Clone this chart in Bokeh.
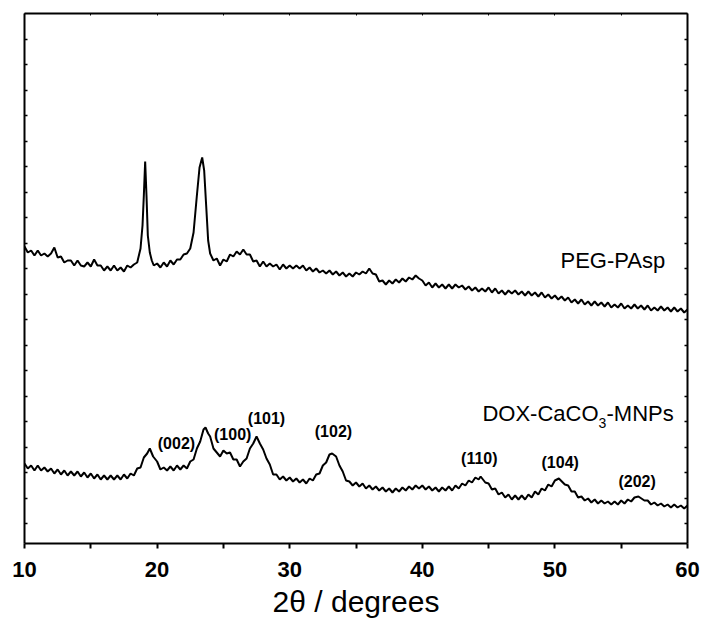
from bokeh.plotting import figure
from bokeh.models import Range1d, LinearAxis, FixedTicker, Label, CustomJSTickFormatter
from bokeh.embed import file_html
from bokeh.resources import INLINE

# ---- data (intensity in arbitrary units) ----
two_theta_peg = [10.0, 10.25, 10.5, 10.75, 11.0, 11.25, 11.5, 11.75, 12.0, 12.25, 12.5, 12.75,
                 13.0, 13.25, 13.5, 13.75, 14.0, 14.25, 14.5, 14.75, 15.0, 15.25, 15.5, 15.75,
                 16.0, 16.25, 16.5, 16.75, 17.0, 17.25, 17.5, 17.75, 18.0, 18.25, 18.5,
                 18.75, 18.9, 19.0, 19.1, 19.2, 19.3, 19.45, 19.6, 19.75,
                 20.0, 20.25, 20.5, 20.75, 21.0, 21.25, 21.5, 21.75, 22.0, 22.25, 22.5,
                 22.75, 23.0, 23.2, 23.4, 23.55, 23.7, 23.85, 24.0,
                 24.25, 24.5, 24.75, 25.0, 25.25, 25.5, 25.75, 26.0, 26.25, 26.5, 26.75,
                 27.0, 27.25, 27.5, 27.75, 28.0, 28.25, 28.5, 28.75, 29.0, 29.25, 29.5, 29.75,
                 30.0, 30.25, 30.5, 30.75, 31.0, 31.25, 31.5, 31.75, 32.0, 32.25, 32.5, 32.75,
                 33.0, 33.25, 33.5, 33.75, 34.0, 34.25, 34.5, 34.75, 35.0, 35.25, 35.5, 35.75,
                 36.0, 36.25, 36.5, 36.75, 37.0, 37.25, 37.5, 37.75, 38.0, 38.25, 38.5, 38.75,
                 39.0, 39.25, 39.5, 39.75, 40.0, 40.25, 40.5, 40.75, 41.0, 41.25, 41.5, 41.75,
                 42.0, 42.25, 42.5, 42.75, 43.0, 43.25, 43.5, 43.75, 44.0, 44.25, 44.5, 44.75,
                 45.0, 45.25, 45.5, 45.75, 46.0, 46.25, 46.5, 46.75, 47.0, 47.25, 47.5, 47.75,
                 48.0, 48.25, 48.5, 48.75, 49.0, 49.25, 49.5, 49.75, 50.0, 50.25, 50.5, 50.75,
                 51.0, 51.25, 51.5, 51.75, 52.0, 52.25, 52.5, 52.75, 53.0, 53.25, 53.5, 53.75,
                 54.0, 54.25, 54.5, 54.75, 55.0, 55.25, 55.5, 55.75, 56.0, 56.25, 56.5, 56.75,
                 57.0, 57.25, 57.5, 57.75, 58.0, 58.25, 58.5, 58.75, 59.0, 59.25, 59.5, 59.75,
                 60.0]
intensity_peg = [297, 291, 293, 288, 293, 288, 290, 287, 290, 296, 286, 287,
                 281, 283, 283, 278, 283, 278, 277, 281, 277, 284, 278, 278,
                 273, 277, 273, 278, 273, 276, 272, 278, 276, 279, 281,
                 295, 318, 348, 382, 348, 308, 291, 283, 278,
                 280, 276, 281, 277, 283, 279, 284, 284, 289, 290, 295,
                 311, 348, 376, 386, 373, 338, 303, 290,
                 283, 285, 278, 284, 282, 289, 287, 292, 289, 294, 289,
                 289, 282, 283, 277, 282, 277, 280, 277, 279, 274, 279, 275,
                 278, 275, 278, 275, 278, 273, 276, 272, 275, 271, 273, 270,
                 273, 269, 272, 268, 271, 267, 270, 267, 271, 269, 272, 270,
                 275, 270, 269, 262, 263, 259, 263, 260, 264, 261, 265, 262,
                 266, 264, 268, 265, 263, 258, 261, 256, 260, 256, 259, 255,
                 259, 255, 259, 256, 258, 254, 257, 253, 256, 252, 255, 252,
                 256, 251, 255, 250, 253, 249, 253, 250, 253, 249, 252, 248,
                 252, 248, 251, 247, 251, 246, 249, 245, 248, 244, 247, 243,
                 246, 241, 244, 240, 244, 239, 242, 238, 242, 238, 241, 237,
                 241, 236, 239, 236, 240, 235, 238, 235, 239, 235, 238, 234,
                 238, 233, 236, 233, 237, 233, 236, 232, 236, 232, 235, 231,
                 234]

two_theta_dox = [10.0, 10.25, 10.5, 10.75, 11.0, 11.25, 11.5, 11.75, 12.0, 12.25, 12.5, 12.75,
                 13.0, 13.25, 13.5, 13.75, 14.0, 14.25, 14.5, 14.75, 15.0, 15.25, 15.5, 15.75,
                 16.0, 16.25, 16.5, 16.75, 17.0, 17.25, 17.5, 17.75, 18.0, 18.25, 18.5, 18.75,
                 19.0, 19.25, 19.45, 19.7, 20.0, 20.25, 20.5, 20.75, 21.0, 21.25, 21.5, 21.75,
                 22.0, 22.25, 22.5, 22.75, 23.0, 23.25, 23.5, 23.65, 23.85, 24.0, 24.25, 24.5,
                 24.75, 25.0, 25.25, 25.5, 25.75, 26.0, 26.25, 26.5, 26.75, 27.0, 27.25, 27.5,
                 27.75, 28.0, 28.25, 28.5, 28.75, 29.0, 29.25, 29.5, 29.75, 30.0, 30.25, 30.5,
                 30.75, 31.0, 31.25, 31.5, 31.75, 32.0, 32.25, 32.5, 32.75, 33.0, 33.2, 33.5,
                 33.75, 34.0, 34.25, 34.5, 34.75, 35.0, 35.25, 35.5, 35.75, 36.0, 36.25, 36.5,
                 36.75, 37.0, 37.25, 37.5, 37.75, 38.0, 38.25, 38.5, 38.75, 39.0, 39.25, 39.5,
                 39.75, 40.0, 40.25, 40.5, 40.75, 41.0, 41.25, 41.5, 41.75, 42.0, 42.25, 42.5,
                 42.75, 43.0, 43.25, 43.5, 43.75, 44.0, 44.25, 44.4, 44.75, 45.0, 45.25, 45.5,
                 45.75, 46.0, 46.25, 46.5, 46.75, 47.0, 47.25, 47.5, 47.75, 48.0, 48.25, 48.5,
                 48.75, 49.0, 49.25, 49.5, 49.75, 50.0, 50.3, 50.75, 51.0, 51.25, 51.5, 51.75,
                 52.0, 52.25, 52.5, 52.75, 53.0, 53.25, 53.5, 53.75, 54.0, 54.25, 54.5, 54.75,
                 55.0, 55.25, 55.5, 55.75, 56.0, 56.3, 56.75, 57.0, 57.25, 57.5, 57.75, 58.0,
                 58.25, 58.5, 58.75, 59.0, 59.25, 59.5, 59.75, 60.0]
intensity_dox = [80, 75, 78, 73, 78, 73, 76, 72, 75, 70, 74, 69,
                 73, 68, 72, 68, 72, 67, 71, 66, 70, 65, 69, 64,
                 68, 64, 68, 64, 68, 64, 69, 65, 70, 68, 75, 76,
                 86, 90, 95, 87, 82, 74, 76, 73, 77, 73, 78, 74,
                 78, 75, 82, 84, 95, 102, 114, 116, 110, 107, 95, 91,
                 87, 93, 90, 91, 84, 84, 77, 82, 85, 95, 100, 107,
                 100, 94, 85, 79, 69, 69, 64, 67, 63, 66, 62, 65,
                 61, 64, 60, 65, 63, 69, 70, 78, 81, 89, 90, 87,
                 78, 72, 63, 62, 58, 61, 57, 60, 55, 58, 54, 57,
                 53, 56, 52, 55, 51, 55, 52, 56, 53, 57, 54, 58,
                 55, 58, 54, 57, 53, 56, 52, 56, 53, 57, 53, 58,
                 55, 60, 58, 63, 61, 66, 64, 67, 61, 60, 54, 55,
                 49, 51, 46, 49, 44, 48, 44, 48, 44, 49, 46, 52,
                 49, 55, 53, 59, 57, 63, 65, 59, 58, 52, 52, 46,
                 47, 43, 45, 41, 44, 40, 43, 40, 42, 39, 42, 39,
                 43, 40, 44, 42, 46, 47, 43, 43, 39, 41, 38, 40,
                 37, 39, 36, 39, 36, 38, 35, 38]

x_major_ticks = [10, 20, 30, 40, 50, 60]
x_minor_ticks = [15, 25, 35, 45, 55]
x_top_ticks = [10, 15, 20, 25, 30, 35, 40, 45, 50, 55, 60]

peak_labels = ["(002)", "(100)", "(101)", "(102)", "(110)", "(104)", "(202)"]
peak_label_x = [21.46, 25.7, 28.25, 33.3, 44.3, 50.4, 56.2]
peak_label_y = [100, 109, 125, 112, 85, 81, 62]

FONT = "Liberation Sans"

p = figure(width=700, height=628, output_backend="svg", toolbar_location=None,
           x_range=Range1d(10, 60), y_range=Range1d(0, 530),
           min_border_left=24, min_border_right=13, min_border_top=13, min_border_bottom=85)
p.grid.visible = False
p.outline_line_color = None
p.background_fill_color = "white"
p.border_fill_color = "white"

p.line(two_theta_peg, intensity_peg, line_color="black", line_width=2)
p.line(two_theta_dox, intensity_dox, line_color="black", line_width=2)

# y tick positions: equally spaced from top of frame
y_ticks = [530 - 25.5 * k for k in range(1, 21)]
blank = CustomJSTickFormatter(code="return ''")

# bottom axis
xa = p.xaxis[0]
xa.ticker = FixedTicker(ticks=x_major_ticks, minor_ticks=x_minor_ticks)
xa.axis_line_width = 2
xa.major_tick_line_width = 2
xa.minor_tick_line_width = 2
xa.major_tick_in = 0
xa.major_tick_out = 5
xa.minor_tick_in = 0
xa.minor_tick_out = 5
xa.major_label_text_font = FONT
xa.major_label_text_font_style = "bold"
xa.major_label_text_font_size = "22px"
xa.major_label_text_color = "black"
xa.major_label_standoff = 13
xa.axis_label = "2θ / degrees"
xa.axis_label_text_font = FONT
xa.axis_label_text_font_style = "normal"
xa.axis_label_text_font_size = "30px"
xa.axis_label_text_color = "black"
xa.axis_label_standoff = 5

# left axis
ya = p.yaxis[0]
ya.ticker = FixedTicker(ticks=y_ticks, minor_ticks=[])
ya.formatter = blank
ya.axis_line_width = 2
ya.major_tick_line_width = 1.5
ya.major_tick_in = 3
ya.major_tick_out = 0
ya.minor_tick_in = 0
ya.minor_tick_out = 0
ya.major_label_standoff = 0

# right axis
ra = LinearAxis(ticker=FixedTicker(ticks=y_ticks, minor_ticks=[]), formatter=blank)
ra.axis_line_width = 2
ra.major_tick_line_width = 1.5
ra.major_tick_in = 3
ra.major_tick_out = 0
ra.minor_tick_in = 0
ra.minor_tick_out = 0
ra.major_label_standoff = 0
p.add_layout(ra, "right")

# top axis
ta = LinearAxis(ticker=FixedTicker(ticks=x_top_ticks, minor_ticks=[]), formatter=blank)
ta.axis_line_width = 2
ta.major_tick_line_width = 1
ta.major_tick_in = 2
ta.major_tick_out = 0
ta.minor_tick_in = 0
ta.minor_tick_out = 0
ta.major_label_standoff = 0
p.add_layout(ta, "above")

# peak labels
for txt, lx, ly in zip(peak_labels, peak_label_x, peak_label_y):
    p.add_layout(Label(x=lx, y=ly, text=txt, text_align="center", text_baseline="middle",
                       text_font=FONT, text_font_style="bold", text_font_size="16px",
                       text_color="black"))

# sample names
p.add_layout(Label(x=50.42, y=283, text="PEG-PAsp", text_align="left", text_baseline="alphabetic",
                   text_font=FONT, text_font_size="22px", text_color="black"))
p.add_layout(Label(x=53.29, y=130, text="DOX-CaCO", text_align="right", text_baseline="alphabetic",
                   text_font=FONT, text_font_size="22px", text_color="black"))
p.add_layout(Label(x=53.29, y=121, text="3", text_align="left", text_baseline="alphabetic",
                   text_font=FONT, text_font_size="14px", text_color="black"))
p.add_layout(Label(x=53.29, y=130, x_offset=8, text="-MNPs", text_align="left", text_baseline="alphabetic",
                   text_font=FONT, text_font_size="22px", text_color="black"))

open("out.html", "w").write(file_html(p, INLINE))
